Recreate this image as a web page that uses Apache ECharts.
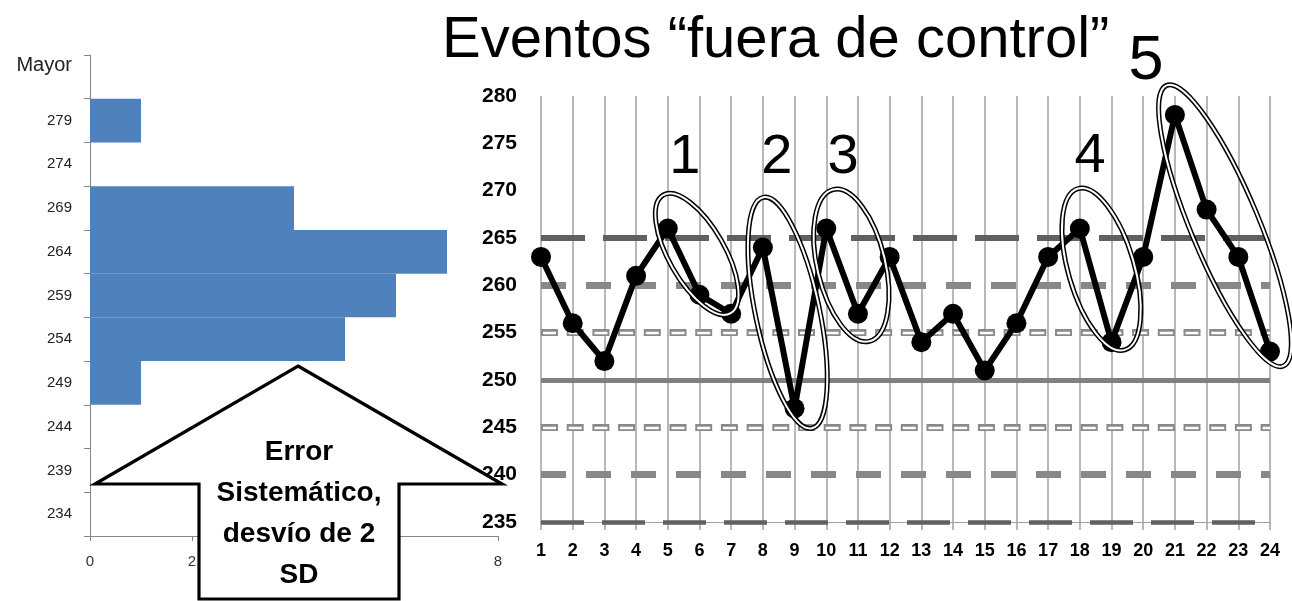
<!DOCTYPE html>
<html><head><meta charset="utf-8">
<script src="https://cdn.jsdelivr.net/npm/echarts@6/dist/echarts.min.js"></script>
<style>html,body{margin:0;padding:0;background:#fff}#c{width:1292px;height:601px}</style>
</head><body><div id="c"></div>
<script>
// ---- data ----
const histBins = ['234','239','244','249','254','259','264','269','274','279','Mayor'];
const histCounts = [0,0,0,1,5,6,7,4,0,1,0];
const runs = ['1','2','3','4','5','6','7','8','9','10','11','12','13','14','15','16','17','18','19','20','21','22','23','24'];
const values = [263,256,252,261,266,259,257,264,247,266,257,263,254,257,251,256,263,266,254,263,278,268,263,253];
const meanLevel = [250];
const sd1Levels = [245,255];
const sd2Levels = [240,260];
const sd3Levels = [235,265];
const titleText = 'Eventos \u201cfuera de control\u201d';
const arrowText = 'Error\nSistemático,\ndesvío de 2\nSD';
const eventLabels = ['1','2','3','4','5'];
// event label anchors (category index, value)
const eventLabelAt = [[4.54,273.45],[7.44,273.45],[9.53,273.45],[17.32,273.56],[19.09,283.6]];
// event ellipses (category index, value)
const ellipseAt = [[4.92,263.3],[7.78,257.1],[9.79,262.1],[17.68,261.7],[21.58,266.3]];

// ---- layout / styles ----
const ellipseGeom = [[68,28,60.3],[118,32,78.1],[78,34,76.6],[84,33,73.8],[152,34,67.4]];
const FONT = 'Liberation Sans';
const chart = echarts.init(document.getElementById('c'), null, {renderer:'canvas'});

function ml(levels, style){ return levels.map(v => ({yAxis:v, lineStyle:style})); }
const limitLines = [].concat(
  ml(sd3Levels.slice(1), {color:'#606060', width:6, type:[44,18]}),
  ml(sd3Levels.slice(0,1), {color:'#606060', width:4.5, type:[43,18]}),
  ml(sd2Levels, {color:'#888888', width:7, type:[25,20]}),
  ml(sd1Levels, {color:'#8a8a8a', width:7, type:[17,8.7]}),
  ml(sd1Levels, {color:'#ffffff', width:2.4, type:[13,12.7], dashOffset:23.7}),
  ml(meanLevel, {color:'#808080', width:5, type:'solid'})
);

chart.setOption({
  animation:false,
  backgroundColor:'#fff',
  grid:[
    {left:90, top:55, width:408, height:481},
    {left:541, top:96, width:729, height:426}
  ],
  xAxis:[
    {gridIndex:0, type:'value', min:0, max:8, interval:2,
     axisLine:{show:true, lineStyle:{color:'#868686'}},
     axisTick:{show:true, length:5, lineStyle:{color:'#868686'}},
     splitLine:{show:false},
     axisLabel:{fontFamily:FONT, fontSize:15, color:'#333', margin:18}},
    {gridIndex:1, type:'category', data:runs, boundaryGap:false,
     axisLine:{show:true, lineStyle:{color:'#a0a0a0', width:1}},
     axisTick:{show:true, length:8, lineStyle:{color:'#a0a0a0', width:1.5}},
     splitLine:{show:true, lineStyle:{color:'#a0a0a0', width:1.5}},
     axisLabel:{fontFamily:FONT, fontWeight:'bold', fontSize:18, color:'#000', margin:20, interval:0}}
  ],
  yAxis:[
    {gridIndex:0, type:'category', data:histBins,
     axisLine:{show:true, lineStyle:{color:'#868686'}},
     axisTick:{show:true, length:6, lineStyle:{color:'#868686'}},
     axisLabel:{fontFamily:FONT, fontSize:15, color:'#222', margin:18,
       formatter: v => v === 'Mayor' ? '{m|' + v + '}' : v,
       rich:{m:{fontFamily:FONT, fontSize:20, color:'#222', padding:[0,0,22,0]}}}},
    {gridIndex:1, type:'value', min:235, max:280, interval:5,
     axisLine:{show:false}, axisTick:{show:false}, splitLine:{show:false},
     axisLabel:{fontFamily:FONT, fontWeight:'bold', fontSize:21, color:'#000', margin:24}}
  ],
  series:[
    {type:'bar', xAxisIndex:0, yAxisIndex:0, data:histCounts, barCategoryGap:'0%',
     itemStyle:{color:'#4f81bd'}, silent:true},
    {type:'line', xAxisIndex:1, yAxisIndex:1, data:[], z:2, silent:true,
     markLine:{silent:true, symbol:['none','none'], label:{show:false}, animation:false, data:limitLines}},
    {type:'line', xAxisIndex:1, yAxisIndex:1, data:values, z:5,
     symbol:'circle', symbolSize:20, showAllSymbol:true,
     lineStyle:{color:'#000', width:6}, itemStyle:{color:'#000'}}
  ]
});

// ---- annotations placed through the chart's own scales ----
const p0 = chart.convertToPixel({xAxisIndex:1}, 0);
const p1 = chart.convertToPixel({xAxisIndex:1}, 1);
const catPx = f => p0 + (p1 - p0) * f;
const valPx = v => chart.convertToPixel({yAxisIndex:1}, v);

const graphics = [];
graphics.push({type:'text', x:442, y:41, z:100,
  style:{text:titleText, fontFamily:FONT, fontSize:58, fill:'#000', align:'left', verticalAlign:'middle'}});

ellipseAt.forEach((e, i) => {
  const [a, b, deg] = ellipseGeom[i];
  const shape = {cx:0, cy:0, rx:a, ry:b};
  graphics.push({type:'group', x:catPx(e[0]), y:valPx(e[1]), rotation:-deg*Math.PI/180, z:100,
    children:[
      {type:'ellipse', shape:shape, style:{fill:'none', stroke:'#000', lineWidth:5}, z:100},
      {type:'ellipse', shape:shape, style:{fill:'none', stroke:'#fff', lineWidth:2}, z:101}
    ]});
});

eventLabels.forEach((t, i) => {
  graphics.push({type:'text', x:catPx(eventLabelAt[i][0]), y:valPx(eventLabelAt[i][1]), z:102,
    style:{text:t, fontFamily:FONT, fontSize: i === 4 ? 63 : 56, fill:'#000', align:'center', verticalAlign:'middle'}});
});

// big arrow
graphics.push({type:'polygon', z:110,
  shape:{points:[[298,366],[502,484],[399,484],[399,599],[199,599],[199,484],[95,484]]},
  style:{fill:'#fff', stroke:'#000', lineWidth:3.2, lineJoin:'miter'}});
graphics.push({type:'text', x:299, y:514, z:111,
  style:{text:arrowText, fontFamily:FONT, fontWeight:'bold', fontSize:28, lineHeight:41, fill:'#000', align:'center', verticalAlign:'middle'}});

chart.setOption({graphic:graphics});
</script>
</body></html>
